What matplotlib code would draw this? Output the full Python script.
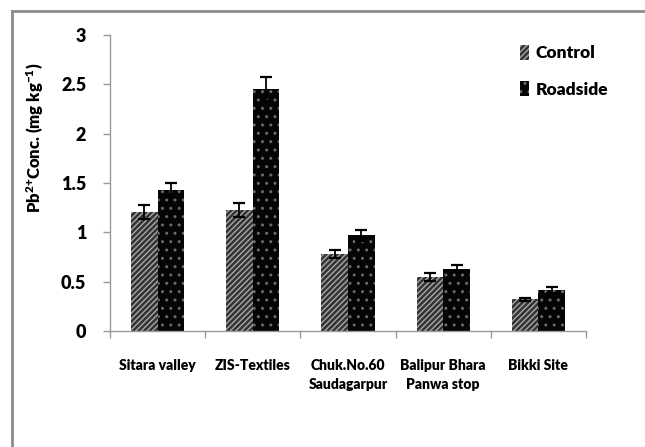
import matplotlib
matplotlib.use('Agg')
import matplotlib.pyplot as plt
from matplotlib.lines import Line2D
from matplotlib.patches import Patch
from matplotlib.ticker import FixedLocator, FuncFormatter
import numpy as np

# Pb concentration at the sampling sites (mg/kg)
sites = ['Sitara valley', 'ZIS-Textiles', 'Chuk.No.60\nSaudagarpur',
         'Balipur Bhara\nPanwa stop', 'Bikki Site']
control = [1.21, 1.23, 0.78, 0.55, 0.32]
control_err = [0.07, 0.07, 0.045, 0.04, 0.015]
roadside = [1.43, 2.45, 0.97, 0.63, 0.42]
roadside_err = [0.07, 0.12, 0.055, 0.035, 0.03]
y_ticks = [0, 0.5, 1, 1.5, 2, 2.5, 3]

plt.rcParams['font.family'] = ['Lato', 'DejaVu Sans']
plt.rcParams['font.weight'] = 'heavy'
plt.rcParams['mathtext.fontset'] = 'custom'
plt.rcParams['mathtext.rm'] = 'Lato:heavy'
plt.rcParams['mathtext.bf'] = 'Lato:heavy'
plt.rcParams['mathtext.default'] = 'bf'
plt.rcParams['hatch.linewidth'] = 1.0

fig = plt.figure(figsize=(6.45, 4.47), dpi=100)
ax = fig.add_axes([0.1705, 0.2595, 0.738, 0.6622])

x = np.arange(len(sites))
w = 0.28
ax.bar(x - w / 2, control, w, facecolor='#333333', edgecolor='#a8a8a8',
       hatch='//////', linewidth=0, zorder=2)
ax.bar(x + w / 2, roadside, w, facecolor='#050505', edgecolor='#6a6a6a',
       hatch='..', linewidth=0, zorder=2)
ax.errorbar(x - w / 2, control, yerr=control_err, fmt='none', ecolor='black',
            elinewidth=1.3, capsize=4, capthick=1.6, zorder=3)
ax.errorbar(x + w / 2, roadside, yerr=roadside_err, fmt='none', ecolor='black',
            elinewidth=1.3, capsize=4, capthick=1.6, zorder=3)

ax.set_xlim(-0.5, len(sites) - 0.5)
ax.set_ylim(0, 3)
ax.yaxis.set_major_locator(FixedLocator(y_ticks))
ax.yaxis.set_major_formatter(FuncFormatter(lambda v, p: f'{v:g}'))
ax.set_xticks(x)
ax.set_xticklabels(sites, fontsize=10, fontweight='heavy', linespacing=1.6)
ax.set_xticks(np.arange(len(sites) + 1) - 0.5, minor=True)
ax.tick_params(axis='x', which='major', length=0, pad=20)
ax.tick_params(axis='x', which='minor', length=5, color='#999999', width=1)
ax.tick_params(axis='y', length=5, color='#999999', width=1, pad=12, labelsize=13)
for lab in ax.get_yticklabels():
    lab.set_fontweight('heavy')

for side in ['top', 'right']:
    ax.spines[side].set_visible(False)
for side in ['left', 'bottom']:
    ax.spines[side].set_color('#999999')
    ax.spines[side].set_linewidth(1)

ax.set_ylabel(r'Pb$^{2{+}}$Conc. (mg kg$^{-1}$)', fontsize=12, fontweight='heavy')
ax.yaxis.set_label_coords(-0.135, 0.652)

handles = [Patch(facecolor='#333333', edgecolor='#a8a8a8', hatch='//////', linewidth=0),
           Patch(facecolor='#050505', edgecolor='#6a6a6a', hatch='..', linewidth=0)]
ax.legend(handles, ['Control', 'Roadside'], loc='upper left',
          bbox_to_anchor=(0.843, 0.995), frameon=False, fontsize=12.5,
          handlelength=0.55, handleheight=0.9, handletextpad=0.35,
          labelspacing=1.15, borderpad=0)

# outer frame around the chart (top and left edges)
fig.add_artist(Line2D([12 / 645, 12 / 645], [0, 1 - 11 / 447], transform=fig.transFigure,
                      color='#8c8c8c', linewidth=2))
fig.add_artist(Line2D([12 / 645, 1], [1 - 11 / 447, 1 - 11 / 447], transform=fig.transFigure,
                      color='#8c8c8c', linewidth=2))

fig.savefig('out.png', dpi=100)
